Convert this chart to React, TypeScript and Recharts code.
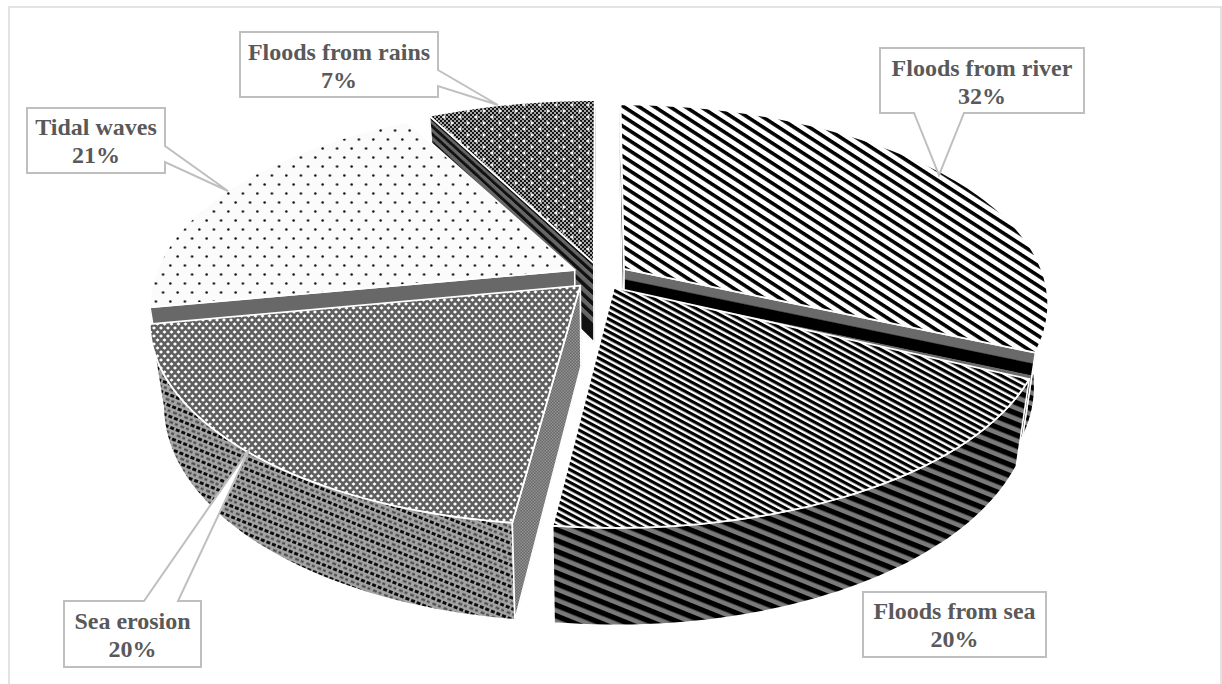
import React from "react";
import { PieChart, Pie } from "recharts";

// Share of each hazard, listed in the order the slices are painted (back to front).
const hazards = ["Floods from river", "Floods from rains", "Tidal waves", "Sea erosion", "Floods from sea"];
const shares = [32, 7, 21, 20, 20];

const chartData = hazards.map((name, i) => ({ name, value: shares[i] }));

// Look of each slice: top surface, outer wall, bands of its cut face, and a small
// rim correction in degrees that compensates for the foreshortening at the cut edges.
type Band = { to: number; fill: string };
type Look = { top: string; wall: string; face: Band[]; rimStart?: number; rimEnd?: number };
const sliceLook: Record<string, Look> = {
  "Floods from river": {
    top: "url(#wideStripes)",
    wall: "url(#wallStripes)",
    rimStart: 1.3,
    face: [{ to: 13, fill: "#6a6a6a" }, { to: 27, fill: "#000" }, { to: 40, fill: "#6a6a6a" }, { to: 54, fill: "#000" }, { to: 67, fill: "#6a6a6a" }, { to: 100, fill: "#000" }],
  },
  "Floods from sea": { top: "url(#fineStripes)", wall: "url(#wallStripes)", face: [{ to: 100, fill: "#333" }] },
  "Sea erosion": { top: "url(#lattice)", wall: "url(#weave)", face: [{ to: 100, fill: "url(#fineChecker)" }] },
  "Tidal waves": { top: "url(#sparseDots)", wall: "url(#sparseDots)", rimStart: 2.8, face: [{ to: 100, fill: "#686868" }] },
  "Floods from rains": {
    top: "url(#stars)",
    wall: "url(#stars)",
    rimEnd: 2.0,
    face: [
      { to: 5, fill: "#111" }, { to: 10, fill: "#666" }, { to: 16, fill: "#111" }, { to: 22, fill: "#666" },
      { to: 28, fill: "#111" }, { to: 35, fill: "#666" }, { to: 42, fill: "#111" }, { to: 49, fill: "#666" },
      { to: 56, fill: "#111" }, { to: 63, fill: "#666" }, { to: 70, fill: "#111" }, { to: 77, fill: "#666" }, { to: 100, fill: "#111" },
    ],
  },
};

// Callout boxes: rectangle, tail and the two text baselines.
const callouts: Record<string, { x: number; y: number; w: number; h: number; tail?: number[][]; base: number[] }> = {
  "Floods from river": { x: 880, y: 48, w: 204, h: 65, tail: [[964, 113], [939, 175], [914, 113]], base: [76, 104] },
  "Floods from rains": { x: 240, y: 32, w: 198, h: 65, tail: [[438, 70], [498, 105], [438, 86]], base: [60, 88] },
  "Tidal waves": { x: 27, y: 108, w: 138, h: 65, tail: [[165, 146], [228, 191], [165, 162]], base: [135, 163] },
  "Sea erosion": { x: 64, y: 601, w: 137, h: 66, tail: [[144, 601], [250, 448], [178, 601]], base: [629, 657] },
  "Floods from sea": { x: 863, y: 592, w: 183, h: 65, base: [619, 647] },
};

// Tilted-plane projection constants, relative to the pie radius.
const TILT = 0.464;
const PERSPECTIVE = 0.17;
const EXPLODE = 0.068;
const THICKNESS = 80;
const TAPER = 0.97;

type P = [number, number];
const toPath = (pts: P[]) => "M" + pts.map((p) => `${p[0].toFixed(1)} ${p[1].toFixed(1)}`).join("L") + "Z";

function Slice3D(props: any) {
  const { cx, cy, outerRadius: R, startAngle, endAngle, name } = props;
  const look = sliceLook[name];
  const rad = Math.PI / 180;
  const mid = ((startAngle + endAngle) / 2) * rad;
  const du = Math.cos(mid) * EXPLODE;
  const dv = -Math.sin(mid) * EXPLODE;
  const a0 = startAngle + (look.rimStart ?? 0);
  const a1 = endAngle + (look.rimEnd ?? 0);

  const project = (u: number, v: number, depth = 0): P => {
    const w = 1 - PERSPECTIVE * (v + dv);
    const X = (R * (u + du)) / w;
    const Y = (R * TILT * (v + dv)) / w;
    return [cx + X * (1 - (1 - TAPER) * depth), cy + Y + (THICKNESS * depth) / w];
  };
  const rim = (deg: number, depth = 0) => project(Math.cos(deg * rad), -Math.sin(deg * rad), depth);

  const steps = Math.max(2, Math.round((a1 - a0) / 1.5));
  const arcAngles = Array.from({ length: steps + 1 }, (_, i) => a0 + ((a1 - a0) * i) / steps);
  const topArc = arcAngles.map((a) => rim(a));
  const bottomArc = arcAngles.map((a) => rim(a, 1)).reverse();
  const apex = project(0, 0);

  const signedArea = (q: P[]) =>
    q.reduce((s, p, i) => {
      const n = q[(i + 1) % q.length];
      return s + p[0] * n[1] - n[0] * p[1];
    }, 0);

  // Cut faces: only the ones turned towards the viewer are drawn, split in bands.
  const faces = [
    { deg: a0, sign: 1 },
    { deg: a1, sign: -1 },
  ].flatMap(({ deg, sign }) => {
    const full: P[] = [project(0, 0), rim(deg), rim(deg, 1), project(0, 0, 1)];
    if (signedArea(full) * sign <= 0) return [];
    let prev = 0;
    return look.face
      .map((band, i) => {
        const d0 = prev / 100;
        const d1 = band.to / 100;
        prev = band.to;
        const q: P[] = [project(0, 0, d0), rim(deg, d0), rim(deg, d1), project(0, 0, d1)];
        return <path key={`${deg}-${i}`} d={toPath(q)} fill={band.fill} stroke={band.fill} strokeWidth={0.4} />;
      })
      .concat(<path key={`${deg}-edge`} d={toPath(full)} fill="none" stroke="#fff" strokeWidth={1.6} />);
  });

  return (
    <g>
      <path d={toPath([...topArc, ...bottomArc])} fill={look.wall} stroke="#fff" strokeWidth={1.6} strokeLinejoin="round" />
      {faces}
      <path d={toPath([apex, ...topArc])} fill={look.top} stroke="#fff" strokeWidth={1.8} strokeLinejoin="round" />
    </g>
  );
}

function Callout(props: any) {
  const { name, value } = props;
  const c = callouts[name];
  if (!c) return null;
  const { x, y, w, h } = c;
  const r = x + w;
  const b = y + h;
  // Outline walks clockwise from the top-left corner and splices the tail in.
  let outline: number[][] = [[x, y], [r, y], [r, b], [x, b]];
  if (c.tail) {
    const t = c.tail;
    if (t[0][0] === r) outline = [[x, y], [r, y], ...t, [r, b], [x, b]];
    else if (t[0][1] === b) outline = [[x, y], [r, y], [r, b], ...t, [x, b]];
    else outline = [[x, y], [t[0][0], y], t[1], [t[2][0], y], [r, y], [r, b], [x, b]];
  }
  const tx = x + w / 2;
  return (
    <g>
      <polygon points={outline.map((p) => p.join(",")).join(" ")} fill="#fff" stroke="#bfbfbf" strokeWidth={2} />
      <text x={tx} y={c.base[0]} textAnchor="middle" fontFamily="'Liberation Serif', serif" fontWeight={700} fontSize={24} fill="#595959">
        {name}
      </text>
      <text x={tx} y={c.base[1]} textAnchor="middle" fontFamily="'Liberation Serif', serif" fontWeight={700} fontSize={24} fill="#595959">
        {`${value}%`}
      </text>
    </g>
  );
}

export default function App() {
  return (
    <div style={{ position: "absolute", left: 0, top: 0, width: 1222, height: 684, overflow: "hidden", background: "#fff" }}>
      <PieChart width={1222} height={684} margin={{ top: 0, right: 0, bottom: 0, left: 0 }}>
        <defs>
          <pattern id="wideStripes" width="8.4" height="8.4" patternUnits="userSpaceOnUse" patternTransform="rotate(33)">
            <rect width="8.4" height="8.4" fill="#fff" />
            <rect width="8.4" height="3.6" fill="#000" />
          </pattern>
          <pattern id="fineStripes" width="5.6" height="5.6" patternUnits="userSpaceOnUse" patternTransform="rotate(28)">
            <rect width="5.6" height="5.6" fill="#fff" />
            <rect width="5.6" height="3.2" fill="#000" />
          </pattern>
          <pattern id="wallStripes" width="10" height="10" patternUnits="userSpaceOnUse" patternTransform="rotate(22)">
            <rect width="10" height="10" fill="#7a7a7a" />
            <rect width="10" height="5.4" fill="#000" />
          </pattern>
          <pattern id="lattice" width="7" height="8" patternUnits="userSpaceOnUse">
            <rect width="7" height="8" fill="#5f5f5f" />
            <path d="M0 -1.7L2 0L0 1.7L-2 0Z M7 -1.7L9 0L7 1.7L5 0Z M0 6.3L2 8L0 9.7L-2 8Z M7 6.3L9 8L7 9.7L5 8Z M3.5 2.3L5.5 4L3.5 5.7L1.5 4Z" fill="#fff" />
          </pattern>
          <pattern id="weave" width="12" height="10" patternUnits="userSpaceOnUse" patternTransform="rotate(22)">
            <rect width="12" height="10" fill="#a4a4a4" />
            <path d="M0 2.5H4M6 2.5H10" stroke="#0c0c0c" strokeWidth="2.8" />
            <path d="M3 7.5H7M9 7.5H12" stroke="#444" strokeWidth="1.8" />
          </pattern>
          <pattern id="fineChecker" width="3" height="3" patternUnits="userSpaceOnUse">
            <rect width="3" height="3" fill="#6a6a6a" />
            <rect width="1.5" height="1.5" fill="#919191" />
            <rect x="1.5" y="1.5" width="1.5" height="1.5" fill="#919191" />
          </pattern>
          <pattern id="sparseDots" width="14.5" height="18" patternUnits="userSpaceOnUse">
            <rect width="14.5" height="18" fill="#fbfbfb" />
            <circle cx="3.6" cy="4.5" r="1.25" fill="#111" />
            <circle cx="10.9" cy="13.5" r="1.25" fill="#111" />
          </pattern>
          <pattern id="checker" width="4" height="4" patternUnits="userSpaceOnUse">
            <rect width="4" height="4" fill="#a8a8a8" />
            <rect width="2" height="2" fill="#141414" />
            <rect x="2" y="2" width="2" height="2" fill="#141414" />
          </pattern>
          <pattern id="stars" width="16" height="12" patternUnits="userSpaceOnUse">
            <rect width="16" height="12" fill="url(#checker)" />
            <path d="M4 1.6V4.4M2.6 3H5.4M12 7.6V10.4M10.6 9H13.4" stroke="#fff" strokeWidth="1.3" />
          </pattern>
        </defs>
        <rect x={9} y={7} width={1212} height={700} fill="#fff" stroke="#dcdcdc" strokeWidth={1.6} />
        <Pie
          data={chartData}
          dataKey="value"
          nameKey="name"
          cx={600}
          cy={276}
          outerRadius={420}
          innerRadius={0}
          startAngle={-25.2}
          endAngle={334.8}
          paddingAngle={0}
          stroke="none"
          shape={Slice3D}
          label={Callout}
          labelLine={false}
          isAnimationActive={false}
        />
      </PieChart>
    </div>
  );
}
